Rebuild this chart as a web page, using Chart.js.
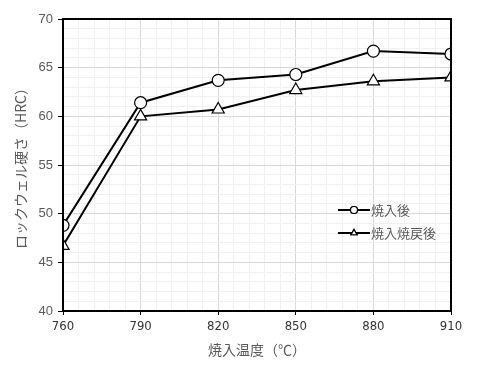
<!DOCTYPE html>
<html>
<head>
<meta charset="utf-8">
<script src="https://cdn.jsdelivr.net/npm/chart.js@4"></script>
<style>
html,body{margin:0;padding:0;background:#fff;}
#wrap{width:490px;height:365px;position:relative;}
</style>
</head>
<body>
<div id="wrap"><canvas id="c" width="490" height="365"></canvas></div>
<script>
const temps = [760, 790, 820, 850, 880, 910];
const quenched = [48.8, 61.4, 63.7, 64.3, 66.7, 66.4];
const tempered = [46.7, 60.0, 60.7, 62.7, 63.6, 64.0];
const seriesNames = ['焼入後', '焼入焼戻後'];
const xTitle = '焼入温度（℃）';
const yTitle = 'ロックウェル硬さ（HRC）';

const jp = "'Noto Sans CJK JP', 'Noto Sans', sans-serif";

const frame = {
  id: 'frame',
  afterDatasetsDraw(chart) {
    const {ctx, chartArea: a} = chart;
    ctx.save();
    ctx.strokeStyle = '#000';
    ctx.lineWidth = 2;
    ctx.strokeRect(a.left, a.top, a.right - a.left, a.bottom - a.top);
    ctx.restore();
  },
  afterDraw(chart) {
    const ctx = chart.ctx;
    ctx.save();
    const items = [
      {name: seriesNames[0], style: 'circle', y: 210},
      {name: seriesNames[1], style: 'triangle', y: 233}
    ];
    items.forEach(it => {
      ctx.strokeStyle = '#000';
      ctx.lineWidth = 2;
      ctx.beginPath();
      ctx.moveTo(338, it.y); ctx.lineTo(370, it.y); ctx.stroke();
      ctx.fillStyle = '#fff';
      ctx.lineWidth = 1.2;
      Chart.helpers.drawPoint(ctx, {pointStyle: it.style, radius: 3.5, borderWidth: 1.2}, 354, it.y);
      ctx.fill(); ctx.stroke();
      ctx.fillStyle = '#595959';
      ctx.font = '13px ' + jp;
      ctx.textBaseline = 'middle';
      ctx.fillText(it.name, 371, it.y);
    });
    ctx.restore();
  }
};

new Chart(document.getElementById('c'), {
  type: 'line',
  data: {
    datasets: [
      {label: seriesNames[0], data: temps.map((t,i)=>({x:t,y:quenched[i]})),
       borderColor:'#000', borderWidth:2, pointStyle:'circle', pointRadius:6,
       pointBackgroundColor:'#fff', pointBorderColor:'#000', pointBorderWidth:1.2, tension:0},
      {label: seriesNames[1], data: temps.map((t,i)=>({x:t,y:tempered[i]})),
       borderColor:'#000', borderWidth:2, pointStyle:'triangle', pointRadius:7,
       pointBackgroundColor:'#fff', pointBorderColor:'#000', pointBorderWidth:1.2, tension:0}
    ]
  },
  options: {
    responsive:false, animation:false, devicePixelRatio:1,
    layout:{padding:{left:12, right:39, top:19, bottom:0}},
    plugins:{legend:{display:false}, tooltip:{enabled:false}},
    scales:{
      x:{
        type:'linear', min:760, max:910,
        afterBuildTicks(s){ const t=[]; for(let v=760; v<=910; v+=6) t.push({value:v}); s.ticks=t; },
        ticks:{autoSkip:false, maxRotation:0, padding:4, color:'#333',
          font:{family:"'Liberation Sans Narrow','DejaVu Sans Condensed',sans-serif", size:13},
          callback:(v)=> (v-760)%30===0 ? String(v) : ''},
        grid:{color:(c)=> ((c.tick.value-760)%30===0 ? '#d9d9d9' : '#f0f0f0'),
              tickColor:(c)=> ((c.tick.value-760)%30===0 ? '#000' : 'rgba(0,0,0,0)'), tickLength:4, lineWidth:1},
        border:{display:false},
        title:{display:true, text:xTitle, color:'#595959', font:{family:jp, size:14}, padding:{top:2, bottom:7}},
        afterFit(s){ s.height = 54; }
      },
      y:{
        min:40, max:70,
        afterBuildTicks(s){ const t=[]; for(let v=40; v<=70; v+=1) t.push({value:v}); s.ticks=t; },
        ticks:{autoSkip:false, padding:5, color:'#595959',
          font:{family:"'Liberation Sans','Arial',sans-serif", size:13},
          callback:(v)=> v%5===0 ? String(v) : ''},
        grid:{color:(c)=> (c.tick.value%5===0 ? '#d9d9d9' : '#f0f0f0'),
              tickColor:(c)=> (c.tick.value%5===0 ? '#000' : 'rgba(0,0,0,0)'), tickLength:5, lineWidth:1},
        border:{display:false},
        title:{display:true, text:yTitle, color:'#595959', font:{family:jp, size:14}, padding:{top:0,bottom:4}},
        afterFit(s){ s.width = 51; }
      }
    }
  },
  plugins:[frame]
});
</script>
</body>
</html>
